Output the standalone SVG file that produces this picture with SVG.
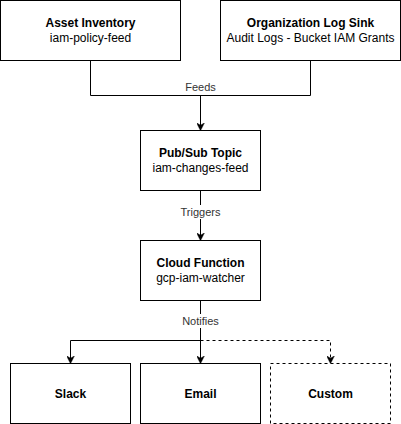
<svg xmlns="http://www.w3.org/2000/svg" width="401" height="424" viewBox="0 0 401 424">
<style>
.box{fill:#fff;stroke:#000;stroke-width:1}
.dash{stroke-dasharray:3 3}
.t{font-family:"Liberation Sans",Arial,sans-serif;font-size:12px;fill:#000;text-anchor:middle}
.b{font-weight:bold}
.e{fill:none;stroke:#000;stroke-width:1}
.lbl{font-family:"Liberation Sans",Arial,sans-serif;font-size:11px;fill:#333;text-anchor:middle}
</style>
<defs>
<marker id="arr" viewBox="0 0 10 10" refX="9" refY="5" markerWidth="8" markerHeight="8" markerUnits="userSpaceOnUse" orient="auto">
<path d="M0,0 L10,5 L0,10 L3,5 Z" fill="#000" stroke="#000" stroke-width="0.5"/>
</marker>
</defs>
<g id="connectors">
<path class="e" d="M90.5,60.5 V95.5 H310.5 V60.5"/>
<path class="e" d="M200.5,95.5 V130" marker-end="url(#arr)"/>
<path class="e" d="M200.5,190.5 V240" marker-end="url(#arr)"/>
<rect x="176" y="205" width="49" height="14" fill="#fff"/>
<text class="lbl" x="200.5" y="216">Triggers</text>
<path class="e" d="M200.5,300.5 V363" marker-end="url(#arr)"/>
<path class="e" d="M200.5,340.5 H70.5 V363" marker-end="url(#arr)"/>
<path class="e dash" d="M200.5,340.5 H330.5 V363" marker-end="url(#arr)"/>
<rect x="178" y="314" width="45" height="14" fill="#fff"/>
<text class="lbl" x="200.5" y="325">Notifies</text>
<text class="lbl" x="200.5" y="91">Feeds</text>
</g>
<g id="asset-inventory">
<rect class="box" x="0.5" y="0.5" width="180" height="60"/>
<text class="t b" x="90.5" y="27">Asset Inventory</text>
<text class="t" x="90.5" y="42">iam-policy-feed</text>
</g>
<g id="org-log-sink">
<rect class="box" x="220.5" y="0.5" width="180" height="60"/>
<text class="t b" x="310.5" y="27">Organization Log Sink</text>
<text class="t" x="310.5" y="42">Audit Logs - Bucket IAM Grants</text>
</g>
<g id="pubsub">
<rect class="box" x="140.5" y="130.5" width="120" height="60"/>
<text class="t b" x="200.5" y="157">Pub/Sub Topic</text>
<text class="t" x="200.5" y="172">iam-changes-feed</text>
</g>
<g id="cloud-function">
<rect class="box" x="140.5" y="240.5" width="120" height="60"/>
<text class="t b" x="200.5" y="267">Cloud Function</text>
<text class="t" x="200.5" y="282">gcp-iam-watcher</text>
</g>
<g id="slack">
<rect class="box" x="10.5" y="363.5" width="120" height="60"/>
<text class="t b" x="70.5" y="397.5">Slack</text>
</g>
<g id="email">
<rect class="box" x="140.5" y="363.5" width="120" height="60"/>
<text class="t b" x="200.5" y="397.5">Email</text>
</g>
<g id="custom">
<rect class="box dash" x="270.5" y="363.5" width="120" height="60"/>
<text class="t b" x="330.5" y="397.5">Custom</text>
</g>
</svg>
